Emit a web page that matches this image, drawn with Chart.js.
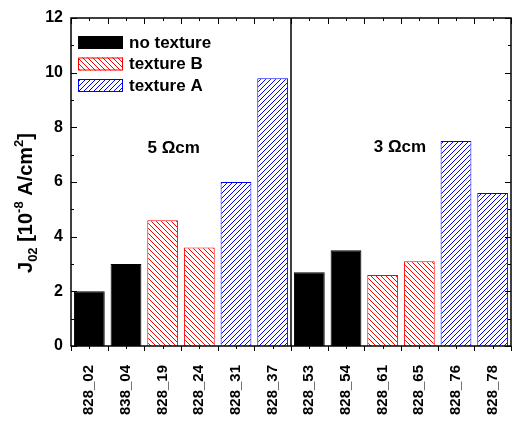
<!DOCTYPE html>
<html>
<head>
<meta charset="utf-8">
<script src="https://cdn.jsdelivr.net/npm/chart.js@4"></script>
<style>
  html, body { margin: 0; padding: 0; background: #fff; }
</style>
</head>
<body>
<canvas id="myChart" width="512" height="424"></canvas>
<script>
const samples = ['828_02', '838_04', '828_19', '828_24', '828_31', '828_37', '828_53', '828_54', '828_61', '828_65', '828_76', '828_78'];
const noTexture = [2.0, 3.0, null, null, null, null, 2.7, 3.5, null, null, null, null];
const textureB = [null, null, 4.6, 3.6, null, null, null, null, 2.6, 3.1, null, null];
const textureA = [null, null, null, null, 6.0, 9.8, null, null, null, null, 7.5, 5.6];
const seriesNames = ['no texture', 'texture B', 'texture A'];
const yTicks = [0, 2, 4, 6, 8, 10, 12];
const groupLabels = ['5 Ωcm', '3 Ωcm'];

const FONT = '"Liberation Sans", Arial, sans-serif';

// diagonal hatch fill, dir 1 = "///", -1 = "\\\"
function hatch(color, dir) {
    const s = 5;
    const c = document.createElement('canvas');
    c.width = c.height = s;
    const g = c.getContext('2d');
    g.fillStyle = '#fff';
    g.fillRect(0, 0, s, s);
    g.strokeStyle = color;
    g.lineWidth = 1;
    g.beginPath();
    if (dir > 0) {
        g.moveTo(0, s); g.lineTo(s, 0);
        g.moveTo(-1, 1); g.lineTo(1, -1);
        g.moveTo(s - 1, s + 1); g.lineTo(s + 1, s - 1);
    } else {
        g.moveTo(0, 0); g.lineTo(s, s);
        g.moveTo(-1, s - 1); g.lineTo(1, s + 1);
        g.moveTo(s - 1, -1); g.lineTo(s + 1, 1);
    }
    g.stroke();
    return g.createPattern(c, 'repeat');
}

// frame, ticks, separator, legend, labels and axis title
const decorations = {
    id: 'decorations',
    afterDatasetsDraw(chart) {
        const { ctx, chartArea: a, scales: { x, y } } = chart;
        ctx.save();
        ctx.strokeStyle = '#000';

        // ticks
        ctx.lineWidth = 1;
        ctx.beginPath();
        for (let v = 0; v <= 12; v++) {
            const py = Math.round(y.getPixelForValue(v)) + 0.5;
            const len = v % 2 === 0 ? 6 : 3;
            ctx.moveTo(a.left, py); ctx.lineTo(a.left + len, py);
            ctx.moveTo(a.right, py); ctx.lineTo(a.right - len, py);
        }
        for (let i = 0; i <= samples.length; i++) {
            const px = Math.round(x.getPixelForValue(i - 0.5)) + 0.5;
            ctx.moveTo(px, a.top); ctx.lineTo(px, a.top + 6);
            ctx.moveTo(px, a.bottom); ctx.lineTo(px, a.bottom + 5);
        }
        for (let i = 0; i < samples.length; i++) {
            const px = Math.round(x.getPixelForValue(i)) + 0.5;
            ctx.moveTo(px, a.top); ctx.lineTo(px, a.top + 3);
            ctx.moveTo(px, a.bottom); ctx.lineTo(px, a.bottom + 3);
        }
        ctx.stroke();

        // frame
        ctx.lineWidth = 1.5;
        ctx.strokeRect(a.left, a.top, a.right - a.left, a.bottom - a.top);

        // separator between the two resistivity groups
        const sx = x.getPixelForValue(5.5);
        ctx.beginPath();
        ctx.moveTo(sx, a.top);
        ctx.lineTo(sx, a.bottom);
        ctx.stroke();

        // legend
        ctx.lineWidth = 1;
        ctx.font = 'bold 17px ' + FONT;
        ctx.textBaseline = 'middle';
        ctx.textAlign = 'left';
        chart.data.datasets.forEach((ds, i) => {
            const bx = a.left + 7;
            const by = a.top + 18 + i * 21.5;
            ctx.fillStyle = ds.backgroundColor;
            ctx.fillRect(bx, by, 45, 13);
            ctx.strokeStyle = ds.borderColor;
            ctx.strokeRect(bx + 0.5, by + 0.5, 44, 12);
            ctx.fillStyle = '#000';
            ctx.fillText(ds.label, bx + 51, by + 7);
        });

        // group labels
        ctx.font = 'bold 17px ' + FONT;
        ctx.textAlign = 'center';
        const labelPos = [[2.3, 7.25], [8.47, 7.28]];
        groupLabels.forEach((t, i) => {
            ctx.fillText(t, x.getPixelForValue(labelPos[i][0]), y.getPixelForValue(labelPos[i][1]));
        });

        // y axis title with sub/superscripts
        const parts = [
            { t: 'J', s: 0 }, { t: '02', s: -1 }, { t: ' [10', s: 0 }, { t: '-8', s: 1 },
            { t: ' A/cm', s: 0 }, { t: '2', s: 1 }, { t: ']', s: 0 }
        ];
        const big = 'bold 20px ' + FONT;
        const small = 'bold 13px ' + FONT;
        let total = 0;
        parts.forEach(p => {
            ctx.font = p.s ? small : big;
            p.w = ctx.measureText(p.t).width;
            total += p.w;
        });
        ctx.translate(32, 203);
        ctx.rotate(-Math.PI / 2);
        ctx.textAlign = 'left';
        ctx.textBaseline = 'alphabetic';
        let cx = -total / 2;
        parts.forEach(p => {
            ctx.font = p.s ? small : big;
            const dy = p.s > 0 ? -9 : (p.s < 0 ? 5 : 0);
            ctx.fillText(p.t, cx, dy);
            cx += p.w;
        });
        ctx.restore();
    }
};

const ctx = document.getElementById('myChart').getContext('2d');
const myChart = new Chart(ctx, {
    type: 'bar',
    data: {
        labels: samples,
        datasets: [{
            label: seriesNames[0],
            data: noTexture,
            backgroundColor: '#000000',
            borderColor: '#000000',
            borderWidth: 1,
        }, {
            label: seriesNames[1],
            data: textureB,
            backgroundColor: hatch('#ff0000', -1),
            borderColor: '#ff0000',
            borderWidth: 1,
        }, {
            label: seriesNames[2],
            data: textureA,
            backgroundColor: hatch('#0000ff', 1),
            borderColor: '#0000ff',
            borderWidth: 1,
        }]
    },
    options: {
        responsive: false,
        animation: false,
        barPercentage: 0.84,
        categoryPercentage: 1,
        layout: { padding: { top: 18, right: 1, left: 0, bottom: 0 } },
        plugins: {
            legend: { display: false },
            tooltip: { enabled: false },
        },
        scales: {
            x: {
                stacked: true,
                grid: { display: false, drawTicks: false },
                border: { display: false },
                ticks: {
                    minRotation: 90,
                    maxRotation: 90,
                    autoSkip: false,
                    padding: 19,
                    color: '#000',
                    font: { family: FONT, size: 15, weight: 'bold' },
                },
                afterFit(s) {
                    s.height = 78;
                    s.paddingLeft = 0;
                    s.paddingRight = 0;
                },
            },
            y: {
                stacked: true,
                min: 0,
                max: 12,
                grid: { display: false, drawTicks: false },
                border: { display: false },
                afterBuildTicks(s) { s.ticks = yTicks.map(v => ({ value: v })); },
                ticks: {
                    padding: 8,
                    color: '#000',
                    font: { family: FONT, size: 16, weight: 'bold' },
                },
                afterFit(s) {
                    s.width = 71;
                    s.paddingTop = 0;
                    s.paddingBottom = 0;
                },
            },
        },
    },
    plugins: [decorations],
});
</script>
</body>
</html>
